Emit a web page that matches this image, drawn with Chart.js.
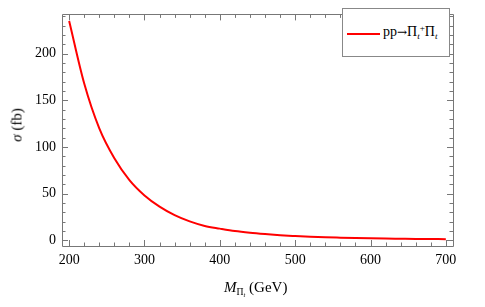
<!DOCTYPE html>
<html>
<head>
<meta charset="utf-8">
<script src="https://cdn.jsdelivr.net/npm/chart.js@4/dist/chart.umd.min.js"></script>
<style>
html,body{margin:0;padding:0;background:#fff;}
#wrap{position:relative;width:485px;height:307px;font-family:"Liberation Serif","Times New Roman",serif;color:#000;}
canvas{position:absolute;left:0;top:0;}
.lbl{position:absolute;white-space:nowrap;line-height:1;}
sub,sup{font-size:65%;line-height:0;position:relative;vertical-align:baseline;}
sub{top:0.3em;}
sup{top:-0.5em;}
#legend{position:absolute;left:342px;top:8px;width:106px;height:47px;border:1px solid #888;background:#fff;}
#legline{position:absolute;left:4px;top:24px;width:33px;height:2px;background:#ff0000;}
#legtext{position:absolute;left:40px;top:16px;font-size:14px;}
.arr{font-family:"DejaVu Serif",serif;font-size:12px;}
</style>
</head>
<body>
<div id="wrap">
<canvas id="c" width="485" height="307"></canvas>
<div class="lbl" style="left:224px;top:280px;font-size:15px;"><i>M</i><sub>Π<sub style="font-style:italic">t</sub></sub>&nbsp;(GeV)</div>
<div class="lbl" style="left:17px;top:125px;font-size:15px;transform:translate(-50%,-50%) rotate(-90deg);"><i>σ</i> (fb)</div>
<div id="legend"><div id="legline"></div><div class="lbl" id="legtext">pp<span class="arr">→</span>Π<sub><i>t</i></sub><sup>+</sup>Π<sub><i>t</i></sub></div></div>
</div>
<script>
const massGeV = [200,220,240,260,280,300,320,340,360,380,400,420,440,460,480,500,520,540,560,580,600,620,640,660,680,700];
const sigmaFb = [235,168,120,88,64.6,48.2,36.2,27.1,20.4,15.5,12.6,10.0,8.2,6.8,5.6,4.7,3.9,3.3,2.9,2.55,2.25,2.0,1.8,1.6,1.45,1.3];
const xTicks = [200,300,400,500,600,700];
const yTicks = [0,50,100,150,200];
const xMinor = [200,220,240,260,280,300,320,340,360,380,400,420,440,460,480,500,520,540,560,580,600,620,640,660,680,700];
const yMinor = [0,10,20,30,40,50,60,70,80,90,100,110,120,130,140,150,160,170,180,190,200,210,220,230,240];
const seriesLabel = 'pp→Πt+Πt';

const frameTicks = {
  id:'frameTicks',
  afterDraw(chart){
    const {ctx, chartArea:a, scales:{x,y}} = chart;
    ctx.save();
    ctx.strokeStyle = '#777';
    ctx.lineWidth = 1;
    ctx.beginPath();
    ctx.rect(Math.round(a.left)+0.5, Math.round(a.top)+0.5, Math.round(a.right-a.left), Math.round(a.bottom-a.top));
    ctx.stroke();
    ctx.beginPath();
    xMinor.forEach(v=>{
      const px = Math.round(x.getPixelForValue(v))+0.5;
      const len = xTicks.includes(v) ? 6 : 3.5;
      ctx.moveTo(px, a.bottom); ctx.lineTo(px, a.bottom-len);
      ctx.moveTo(px, a.top); ctx.lineTo(px, a.top+len);
    });
    yMinor.forEach(v=>{
      const py = Math.round(y.getPixelForValue(v))+0.5;
      const len = yTicks.includes(v) ? 6 : 3.5;
      ctx.moveTo(a.left, py); ctx.lineTo(a.left+len, py);
      ctx.moveTo(a.right, py); ctx.lineTo(a.right-len, py);
    });
    ctx.stroke();
    ctx.restore();
  }
};

new Chart(document.getElementById('c'), {
  type:'line',
  data:{
    datasets:[{
      label: seriesLabel,
      data: massGeV.map((m,i)=>({x:m, y:sigmaFb[i]})),
      borderColor:'#ff0000',
      borderWidth:2,
      pointRadius:0,
      fill:false,
      cubicInterpolationMode:'monotone'
    }]
  },
  options:{
    responsive:false,
    animation:false,
    devicePixelRatio:1,
    layout:{padding:{left:0,top:5,right:32,bottom:0}},
    plugins:{legend:{display:false},tooltip:{enabled:false}},
    scales:{
      x:{
        type:'linear', min:190.5, max:709.5,
        afterBuildTicks:s=>{s.ticks = xTicks.map(v=>({value:v}));},
        afterFit:s=>{s.height = 61;},
        grid:{display:true,drawOnChartArea:false,drawTicks:false},
        border:{display:false},
        ticks:{padding:6,color:'#000',font:{family:'Liberation Serif',size:14},maxRotation:0,autoSkip:false}
      },
      y:{
        type:'linear', min:-6, max:242,
        afterBuildTicks:s=>{s.ticks = yTicks.map(v=>({value:v}));},
        afterFit:s=>{s.width = 62;},
        grid:{display:true,drawOnChartArea:false,drawTicks:false},
        border:{display:false},
        ticks:{padding:6,color:'#000',font:{family:'Liberation Serif',size:14}}
      }
    }
  },
  plugins:[frameTicks]
});
</script>
</body>
</html>
